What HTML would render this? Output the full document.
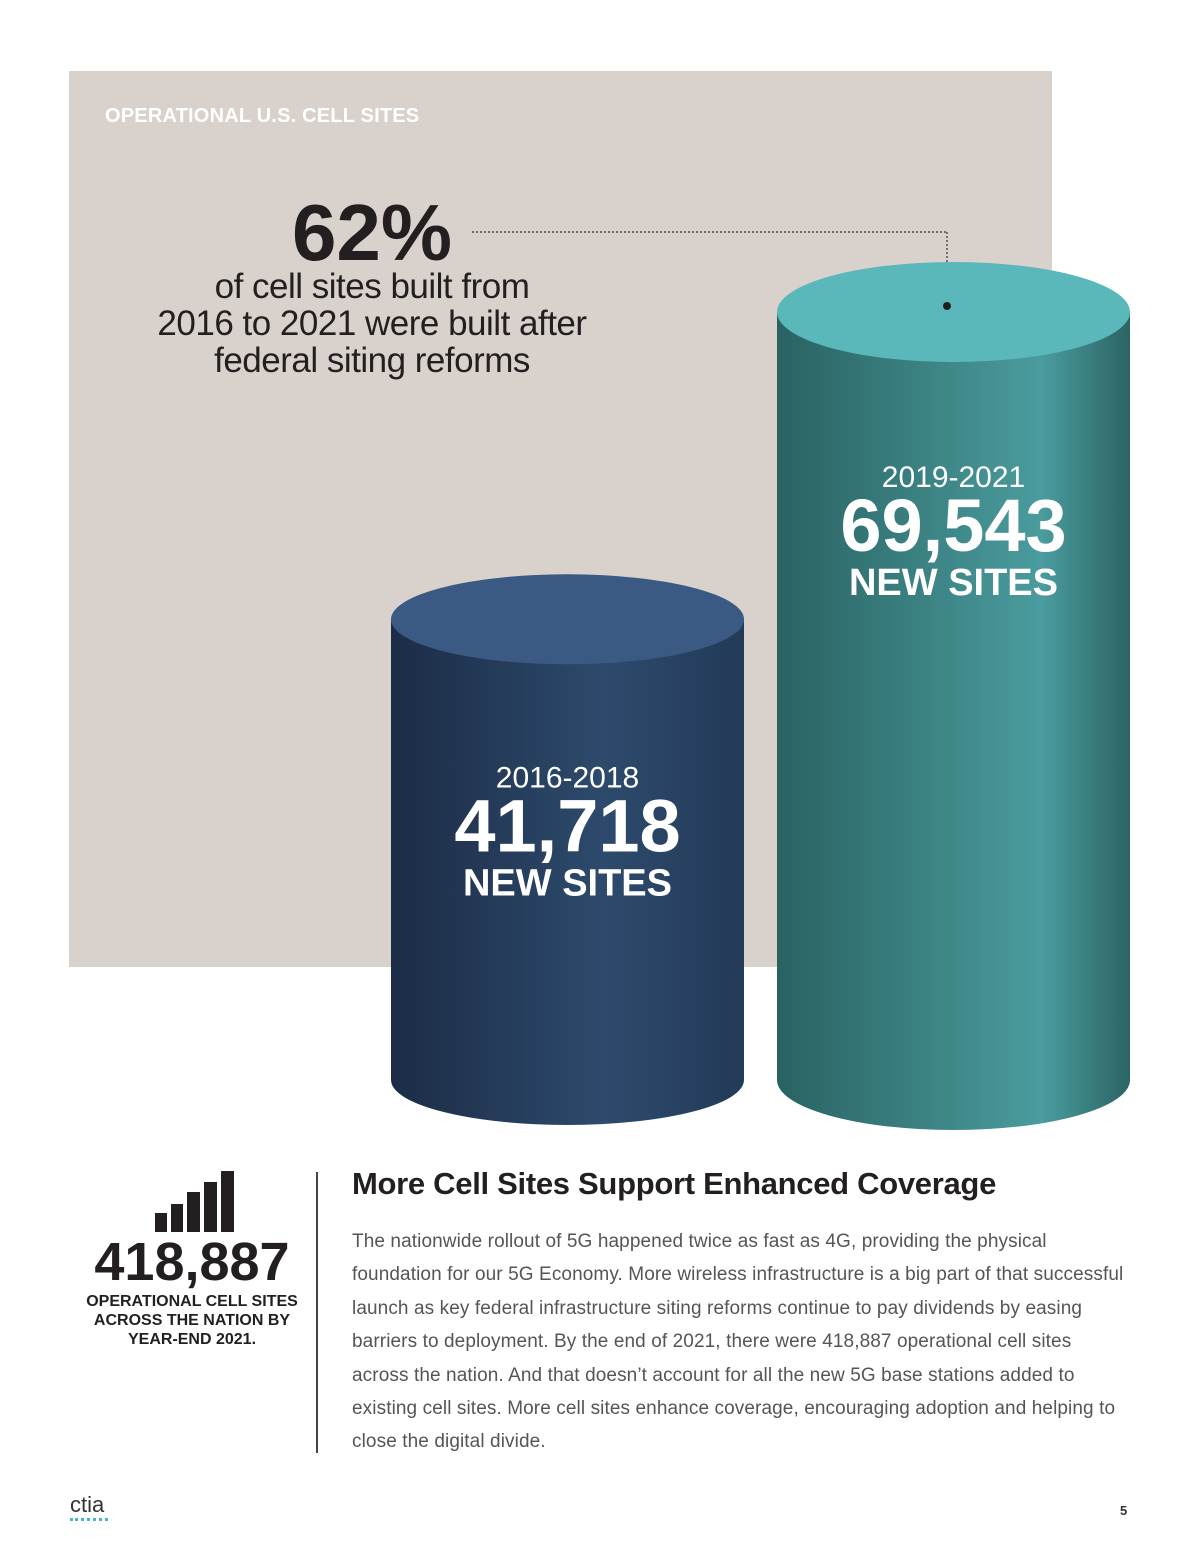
<!DOCTYPE html>
<html><head><meta charset="utf-8"><style>
body{margin:0;width:1200px;height:1555px;background:#fff;position:relative;font-family:"Liberation Sans",sans-serif;overflow:hidden}
.a{position:absolute;margin:0}
</style></head><body>
<div class="a" style="left:69px;top:71px;width:983px;height:896px;background:#d8d1cc"></div>
<div class="a" style="left:105px;top:105px;font-size:20px;font-weight:bold;color:#fff;letter-spacing:0.2px">OPERATIONAL U.S. CELL SITES</div>
<div class="a" style="left:172px;top:188px;width:400px;text-align:center;font-size:80px;font-weight:bold;color:#231f20;line-height:90px">62%</div>
<div class="a" style="left:122px;top:268px;width:500px;text-align:center;font-size:35px;color:#231f20;line-height:37px;letter-spacing:-0.5px">of cell sites built from<br>2016 to 2021 were built after<br>federal siting reforms</div>
<svg class="a" style="left:0;top:0" width="1200" height="1200">
<defs>
<linearGradient id="gl" x1="0" x2="1"><stop offset="0" stop-color="#1c2c46"/><stop offset="0.6" stop-color="#2d4a6c"/><stop offset="1" stop-color="#233a58"/></linearGradient>
<linearGradient id="gr" x1="0" x2="1"><stop offset="0" stop-color="#2a6262"/><stop offset="0.75" stop-color="#4a9c9e"/><stop offset="1" stop-color="#2c6464"/></linearGradient>
</defs>
<line x1="472" y1="232" x2="947" y2="232" stroke="#333" stroke-width="1.2" stroke-dasharray="2,2"/>
<line x1="947" y1="232" x2="947" y2="306" stroke="#333" stroke-width="1.2" stroke-dasharray="2,2"/>
<g id="cyl"></g>
</svg>
<div class="a" style="left:316px;top:1172px;width:2px;height:281px;background:#444"></div>
<svg class="a" style="left:150px;top:1168px" width="90" height="66">
<rect x="5" y="45" width="12" height="19" fill="#231f20"/><rect x="21" y="36" width="12" height="28" fill="#231f20"/><rect x="37" y="24" width="13" height="40" fill="#231f20"/><rect x="54" y="14" width="13" height="50" fill="#231f20"/><rect x="71" y="3" width="13" height="61" fill="#231f20"/>
</svg>
<div class="a" style="left:62px;top:1232px;width:260px;text-align:center;font-size:54px;font-weight:bold;color:#231f20;line-height:60px">418,887</div>
<div class="a" style="left:62px;top:1292px;width:260px;text-align:center;font-size:16px;font-weight:bold;color:#231f20;line-height:19px">OPERATIONAL CELL SITES<br>ACROSS THE NATION BY<br>YEAR-END 2021.</div>
<div class="a" style="left:352px;top:1166px;font-size:31px;font-weight:bold;color:#231f20;letter-spacing:-0.3px">More Cell Sites Support Enhanced Coverage</div>
<div class="a" style="left:352px;top:1225px;width:820px;white-space:nowrap;font-size:19px;color:#555;line-height:33.4px;letter-spacing:0.1px">The nationwide rollout of 5G happened twice as fast as 4G, providing the physical<br>foundation for our 5G Economy. More wireless infrastructure is a big part of that successful<br>launch as key federal infrastructure siting reforms continue to pay dividends by easing<br>barriers to deployment. By the end of 2021, there were 418,887 operational cell sites<br>across the nation. And that doesn’t account for all the new 5G base stations added to<br>existing cell sites. More cell sites enhance coverage, encouraging adoption and helping to<br>close the digital divide.</div>
<div class="a" style="left:70px;top:1494px;font-size:22px;color:#333;line-height:22px">ctia<div style="border-top:3px dotted #4ab8c0;width:38px;margin-top:2px"></div></div>
<div class="a" style="left:1120px;top:1503px;font-size:13px;font-weight:bold;color:#333">5</div>
<script>
const categories=["2016-2018","2019-2021"];
const values=[41718,69543];
const labels=["41,718","69,543"];
const svg=document.getElementById('cyl');
const NS='http://www.w3.org/2000/svg';
const baseY=1080,scale=768/69543;
const yPos=v=>baseY-v*scale;
const xs=[391,777],w=353,ry=[45,50];
const fills=['url(#gl)','url(#gr)'],tops=['#3a5a84','#5ab8ba'];
const labelFrac=[0.365,0.228];
function mk(t,a){const e=document.createElementNS(NS,t);for(const k in a)e.setAttribute(k,a[k]);svg.appendChild(e);return e;}
values.forEach((v,i)=>{
 const x=xs[i],cx=x+w/2,rx=w/2,ty=yPos(v),r=ry[i];
 const b=mk('path',{d:`M${x},${ty} L${x},${baseY} A${rx},${r} 0 0 0 ${x+w},${baseY} L${x+w},${ty} Z`,fill:fills[i]});
 
 
 const t=mk('ellipse',{cx:cx,cy:ty,rx:rx,ry:r,fill:tops[i]});
 
 
 const mid=ty+(baseY-ty)*labelFrac[i];
 const a=mk('text',{x:cx,y:mid,'text-anchor':'middle','font-size':30,fill:'#fff','font-family':'Liberation Sans'});a.textContent=categories[i];
 
 
 const n=mk('text',{x:cx,y:mid+64,'text-anchor':'middle','font-size':74,'font-weight':'bold',fill:'#fff','font-family':'Liberation Sans'});n.textContent=labels[i];
 
 
 const s=mk('text',{x:cx,y:mid+108,'text-anchor':'middle','font-size':38,'font-weight':'bold',fill:'#fff','font-family':'Liberation Sans'});s.textContent='NEW SITES';
 
 
});
mk('circle',{cx:947,cy:306,r:4,fill:'#231f20'});
</script>
</body></html>
